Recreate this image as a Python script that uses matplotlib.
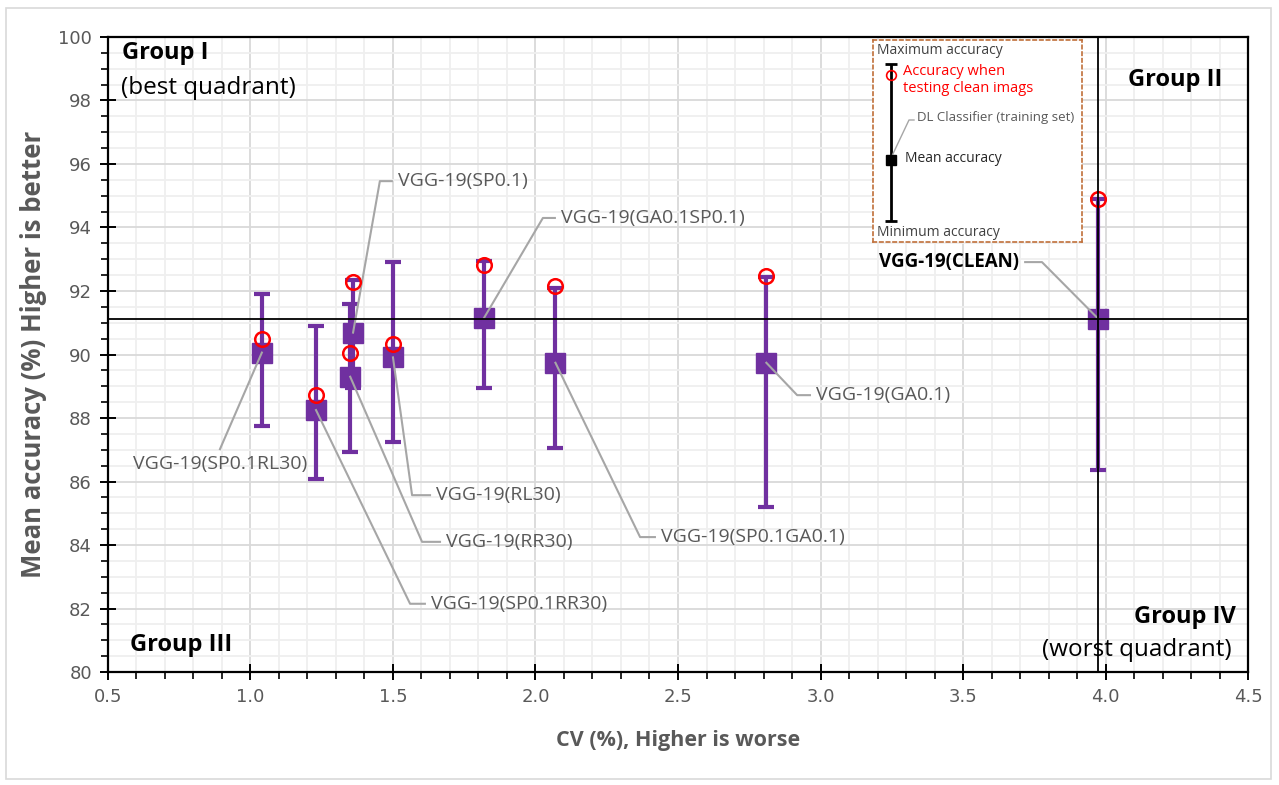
import matplotlib
matplotlib.use("Agg")
import matplotlib.pyplot as plt
import numpy as np
from matplotlib.patches import Rectangle
from matplotlib.ticker import MultipleLocator, FormatStrFormatter

# data
models = ["VGG-19(SP0.1RL30)", "VGG-19(SP0.1RR30)", "VGG-19(SP0.1)", "VGG-19(RR30)",
          "VGG-19(RL30)", "VGG-19(GA0.1SP0.1)", "VGG-19(SP0.1GA0.1)", "VGG-19(GA0.1)",
          "VGG-19(CLEAN)"]
cv = [1.04, 1.23, 1.36, 1.35, 1.50, 1.82, 2.07, 2.81, 3.975]
acc_mean = [90.06, 88.25, 90.69, 89.30, 89.91, 91.16, 89.74, 89.74, 91.12]
acc_max = [91.90, 90.90, 92.35, 91.58, 92.90, 92.95, 92.10, 92.45, 94.90]
acc_min = [87.76, 86.07, 88.94, 86.93, 87.23, 88.94, 87.04, 85.19, 86.36]
acc_clean = [90.49, 88.71, 92.27, 90.04, 90.33, 92.82, 92.16, 92.47, 94.90]

# label leader lines: elbow point, end of horizontal part
elbow = [(0.893, 87.02), (1.560, 82.15), (1.454, 95.46), (1.602, 84.10), (1.567, 85.57),
         (2.026, 94.30), (2.367, 84.25), (2.918, 88.72), (3.777, 92.91)]
elbow_end = [0.893, 1.612, 1.496, 1.665, 1.630, 2.068, 2.419, 2.963, 3.718]

purple = "#7030a0"
gray_txt = "#595959"

fig = plt.figure(figsize=(12.79, 7.85), dpi=100)
fig.patches.append(Rectangle((0.005, 0.008), 0.989, 0.982, transform=fig.transFigure,
                             fill=False, edgecolor="#d9d9d9", lw=1.2))
ax = fig.add_axes([0.0844, 0.1439, 0.8914, 0.809])

ax.set_xlim(0.5, 4.5)
ax.set_ylim(80, 100)
ax.xaxis.set_major_locator(MultipleLocator(0.5))
ax.xaxis.set_minor_locator(MultipleLocator(0.1))
ax.yaxis.set_major_locator(MultipleLocator(2))
ax.yaxis.set_minor_locator(MultipleLocator(0.5))
ax.xaxis.set_major_formatter(FormatStrFormatter("%.1f"))
ax.grid(which="major", color="#d9d9d9", lw=1.3)
ax.grid(which="minor", color="#efefef", lw=1.3)
ax.set_axisbelow(True)
for s in ax.spines.values():
    s.set_color("black")
    s.set_linewidth(1.6)
ax.tick_params(which="major", direction="inout", length=11, width=1.4, color="black",
               labelsize=13, labelcolor=gray_txt, pad=6)
ax.tick_params(which="minor", direction="out", length=5, width=1.2, color="black")
for lab in ax.get_xticklabels() + ax.get_yticklabels():
    lab.set_family("DejaVu Sans")

ax.set_xlabel("CV (%), Higher is worse", fontsize=15.5, fontweight="bold", color=gray_txt,
              family="Open Sans", labelpad=17)
ax.set_ylabel("Mean accuracy (%) Higher is better", fontsize=18.5, fontweight="bold",
              color=gray_txt, family="Open Sans", labelpad=8)

# reference lines at the clean model
ax.axhline(acc_mean[-1], color="black", lw=1.3, zorder=6)
ax.axvline(cv[-1], color="black", lw=1.3, zorder=6)

cv_a = np.array(cv)
mean_a = np.array(acc_mean)
yerr = [mean_a - np.array(acc_min), np.array(acc_max) - mean_a]
ax.errorbar(cv_a, mean_a, yerr=yerr, fmt="s", color=purple, ms=14, ecolor=purple,
            elinewidth=3, capsize=6, capthick=3, zorder=4)
ax.plot(cv, acc_clean, "o", mfc="none", mec="red", ms=10.5, mew=1.8, zorder=5)

# leader lines + labels
for i, name in enumerate(models):
    ex, ey = elbow[i]
    xs = [cv[i], ex, elbow_end[i]]
    ys = [acc_mean[i], ey, ey]
    ax.plot(xs, ys, color="#a6a6a6", lw=1.5, zorder=4.5)
    if i == 0:
        ax.text(ex, ey - 0.2, name, ha="center", va="top", fontsize=14,
                color=gray_txt, family="Open Sans")
    elif name.endswith("(CLEAN)"):
        ax.text(elbow_end[i] - 0.02, ey, name, ha="right", va="center", fontsize=13.5,
                color="black", fontweight="bold", family="Open Sans")
    else:
        ax.text(elbow_end[i] + 0.02, ey, name, ha="left", va="center", fontsize=14,
                color=gray_txt, family="Open Sans")

# quadrant names
ax.text(0.549, 99.5, "Group I", ha="left", va="center", fontsize=17, fontweight="bold",
        family="Open Sans")
ax.text(0.545, 98.39, "(best quadrant)", ha="left", va="center", fontsize=17.5,
        family="Open Sans")
ax.text(4.41, 98.65, "Group II", ha="right", va="center", fontsize=17, fontweight="bold",
        family="Open Sans")
ax.text(0.577, 80.85, "Group III", ha="left", va="center", fontsize=17, fontweight="bold",
        family="Open Sans")
ax.text(4.458, 81.73, "Group IV", ha="right", va="center", fontsize=17, fontweight="bold",
        family="Open Sans")
ax.text(4.444, 80.69, "(worst quadrant)", ha="right", va="center", fontsize=17.5,
        family="Open Sans")

# explanatory key box (pixel units inside)
kx = fig.add_axes([873 / 1279, (785 - 242) / 785, 209 / 1279, 202 / 785])
kx.set_xlim(0, 209)
kx.set_ylim(202, 0)
kx.set_facecolor("white")
kx.set_xticks([])
kx.set_yticks([])
for s in kx.spines.values():
    s.set_color("#c0703a")
    s.set_linestyle((0, (2, 2)))
    s.set_linewidth(1.2)
kx.errorbar([18], [120], yerr=[[96], [61]], fmt="s", color="black", ms=7,
            elinewidth=2, capsize=4, capthick=2)
kx.plot([18], [35], "o", mfc="none", mec="red", ms=7, mew=1.2)
kx.plot([18, 36, 41], [118, 80, 80], color="#a6a6a6", lw=1)
kx.text(4, 11, "Maximum accuracy", fontsize=10, color="#404040", va="center",
        family="Open Sans")
kx.text(30, 40, "Accuracy when\ntesting clean imags", fontsize=10.5, color="red",
        va="center", family="Open Sans", linespacing=1.15)
kx.text(44, 78, "DL Classifier (training set)", fontsize=9.5, color=gray_txt, va="center",
        family="Open Sans")
kx.text(32, 119, "Mean accuracy", fontsize=10, color="#262626", va="center",
        family="Open Sans")
kx.text(4, 193, "Minimum accuracy", fontsize=10, color="#404040", va="center",
        family="Open Sans")

fig.savefig("out.png", dpi=100)
